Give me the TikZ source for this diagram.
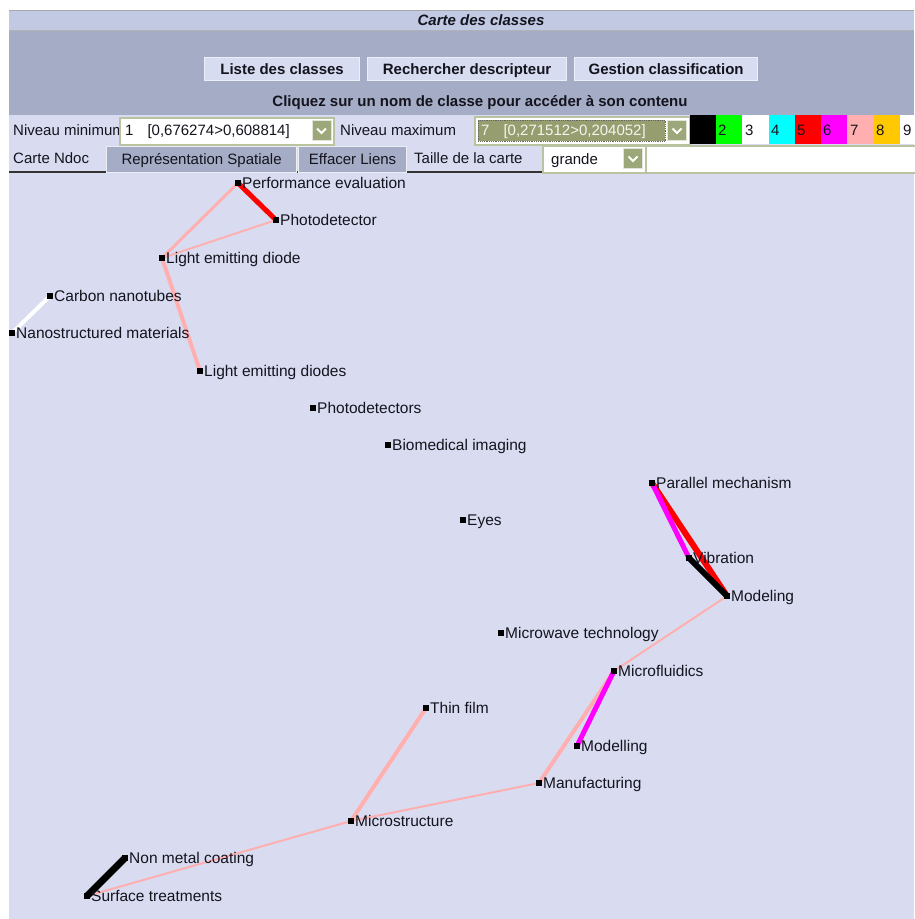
\documentclass[tikz,border=0pt]{standalone}
\usepackage{fontspec}
\setmainfont{Liberation Sans}
\definecolor{mapbg}{RGB}{217,220,240}
\definecolor{titlebg}{RGB}{193,201,227}
\definecolor{bandbg}{RGB}{165,172,198}
\definecolor{btnbg}{RGB}{216,220,240}
\definecolor{btnedge}{RGB}{236,238,248}
\definecolor{olivebtn}{RGB}{157,168,122}
\definecolor{olivesel}{RGB}{150,158,112}
\definecolor{oliveedge}{RGB}{185,195,160}
\definecolor{pinkl}{RGB}{255,175,175}
\definecolor{orangec}{RGB}{255,200,0}
\definecolor{redc}{RGB}{255,0,0}
\definecolor{greenc}{RGB}{0,255,0}
\definecolor{cyanc}{RGB}{0,255,255}
\definecolor{magc}{RGB}{255,0,255}
\definecolor{txt}{RGB}{20,20,30}
\pgfdeclarelayer{bg}
\pgfdeclarelayer{edges}
\pgfsetlayers{bg,edges,main}
\tikzset{
  mk/.style={rectangle,fill=black,minimum size=6pt,inner sep=0pt,draw=none},
  lbl/.style={anchor=base west,inner sep=0pt,font=\fontsize{15.5}{18}\selectfont,text=txt},
  htxt/.style={inner sep=0pt,font=\fontsize{15}{18}\selectfont,text=txt},
  hbold/.style={inner sep=0pt,font=\fontsize{15}{18}\selectfont\bfseries,text=txt},
  btn/.style={fill=btnbg,draw=btnedge,line width=1.2pt},
  combo/.style={fill=white,draw=oliveedge,line width=1.5pt},
  dropbtn/.style={fill=olivebtn,draw=white!70!olivebtn,line width=0.8pt},
  chev/.style={draw=white,line width=2pt},
  pk/.style={draw=pinkl,line width=#1},
  rd/.style={draw=redc,line width=#1},
  mg/.style={draw=magc,line width=#1},
  bk/.style={draw=black,line width=#1},
  wt/.style={draw=white,line width=#1},
}
\begin{document}
\begin{tikzpicture}[x=1pt,y=-1pt]
\useasboundingbox (0,0) rectangle (914,919);
\begin{pgfonlayer}{bg}
\fill[white] (0,0) rectangle (914,919);
\fill[mapbg] (9,172) rectangle (914,919);
\fill[titlebg] (9,10) rectangle (914,31);
\draw[gray!70,line width=1pt] (9,10.5) -- (914,10.5);
\draw[gray!60,line width=1pt] (9,30.5) -- (914,30.5);
\fill[bandbg] (9,31) rectangle (914,115);
\fill[mapbg] (9,115) rectangle (914,172);
\draw[black!80,line width=2pt] (9,172) -- (914,172);
\end{pgfonlayer}
% header
\node[hbold,font=\fontsize{15}{18}\selectfont\bfseries\itshape,anchor=base] (title) at (481,25.5) {Carte des classes};
\node[btn,minimum width=155pt,minimum height=23pt,inner sep=0pt,anchor=north west] (b1) at (204,57) {};
\node[hbold,anchor=base] (b1t) at ([yshift=-5pt]b1.center) {Liste des classes};
\node[btn,minimum width=199pt,minimum height=23pt,inner sep=0pt,anchor=north west] (b2) at (367,57) {};
\node[hbold,anchor=base] (b2t) at ([yshift=-5pt]b2.center) {Rechercher descripteur};
\node[btn,minimum width=183pt,minimum height=23pt,inner sep=0pt,anchor=north west] (b3) at (574,57) {};
\node[hbold,anchor=base] (b3t) at ([yshift=-5pt]b3.center) {Gestion classification};
\node[hbold,anchor=base] (hint) at (480,106.5) {Cliquez sur un nom de classe pour accéder à son contenu};
% row 1
\node[htxt,anchor=base west] (nmin) at (13,135) {Niveau minimum};
\node[combo,minimum width=214pt,minimum height=27pt,inner sep=0pt,anchor=north west] (c1) at (119,117) {};
\node[htxt,anchor=base west] (c1t) at (125,135.5) {1\hspace{14pt}[0,676274>0,608814]};
\node[dropbtn,minimum width=19pt,minimum height=20pt,inner sep=0pt] (d1) at (321.5,130.5) {};
\draw[chev] ([xshift=-4.5pt,yshift=2pt]d1.center) -- ([yshift=-2.5pt]d1.center) -- ([xshift=4.5pt,yshift=2pt]d1.center);
\node[htxt,anchor=base west] (nmax) at (340,135) {Niveau maximum};
\node[combo,minimum width=215pt,minimum height=28pt,inner sep=0pt,anchor=north west] (c2) at (474,116) {};
\node[fill=olivesel,draw=black!60,densely dotted,line width=0.8pt,minimum width=187pt,minimum height=21pt,inner sep=0pt,anchor=north west] (c2s) at (478,120) {};
\node[htxt,text=white!90!olivesel,anchor=base west] (c2t) at (481,135.5) {7\hspace{14pt}[0,271512>0,204052]};
\node[dropbtn,minimum width=19pt,minimum height=20pt,inner sep=0pt] (d2) at (677,130.5) {};
\draw[chev] ([xshift=-4.5pt,yshift=2pt]d2.center) -- ([yshift=-2.5pt]d2.center) -- ([xshift=4.5pt,yshift=2pt]d2.center);
% swatches
\fill[black] (690,115) rectangle (716,144);
\fill[greenc] (716,115) rectangle (742,144);
\fill[white] (742,115) rectangle (769,144);
\fill[cyanc] (769,115) rectangle (795,144);
\fill[redc] (795,115) rectangle (821,144);
\fill[magc] (821,115) rectangle (847,144);
\fill[pinkl] (847,115) rectangle (874,144);
\fill[orangec] (874,115) rectangle (900,144);
\fill[white] (900,115) rectangle (914,144);
\node[htxt,anchor=base west] (s2) at (718,135) {2};
\node[htxt,anchor=base west] (s3) at (745,135) {3};
\node[htxt,anchor=base west] (s4) at (771,135) {4};
\node[htxt,anchor=base west] (s5) at (797,135) {5};
\node[htxt,anchor=base west] (s6) at (823,135) {6};
\node[htxt,anchor=base west] (s7) at (850,135) {7};
\node[htxt,anchor=base west] (s8) at (876,135) {8};
\node[htxt,anchor=base west] (s9) at (903,135) {9};
% row 2
\node[htxt,anchor=base west] (cnd) at (13,163) {Carte Ndoc};
\node[fill=bandbg,draw=white!80!bandbg,line width=1.2pt,minimum width=190pt,minimum height=26pt,inner sep=0pt,anchor=north west] (rs) at (106,146) {};
\node[htxt,anchor=base] (rst) at ([yshift=-5pt]rs.center) {Représentation Spatiale};
\node[fill=bandbg,draw=white!80!bandbg,line width=1.2pt,minimum width=108pt,minimum height=26pt,inner sep=0pt,anchor=north west] (el) at (298,146) {};
\node[htxt,anchor=base] (elt) at ([yshift=-5pt]el.center) {Effacer Liens};
\node[htxt,anchor=base west] (tdc) at (414,163) {Taille de la carte};
\node[combo,minimum width=103pt,minimum height=27pt,inner sep=0pt,anchor=north west] (c3) at (542,145) {};
\node[htxt,anchor=base west] (c3t) at (551,164) {grande};
\node[dropbtn,minimum width=19pt,minimum height=20pt,inner sep=0pt] (d3) at (633,158.5) {};
\draw[chev] ([xshift=-4.5pt,yshift=2pt]d3.center) -- ([yshift=-2.5pt]d3.center) -- ([xshift=4.5pt,yshift=2pt]d3.center);
\node[combo,minimum width=270pt,minimum height=27pt,inner sep=0pt,anchor=north west] (fld) at (645,145) {};
% map nodes
\node[mk] (pe) at (238,183) {};
\node[mk] (pd) at (276,220) {};
\node[mk] (led) at (162,258) {};
\node[mk] (cn) at (50,296) {};
\node[mk] (nm) at (12,333) {};
\node[mk] (leds) at (200,371) {};
\node[mk] (pds) at (313,408) {};
\node[mk] (bi) at (388,445) {};
\node[mk] (pm) at (652,483) {};
\node[mk] (ey) at (463,520) {};
\node[mk] (vib) at (689,558) {};
\node[mk] (mod) at (727,596) {};
\node[mk] (mw) at (501,633) {};
\node[mk] (mf) at (614,671) {};
\node[mk] (tf) at (426,708) {};
\node[mk] (mdl) at (577,746) {};
\node[mk] (man) at (539,783) {};
\node[mk] (ms) at (351,821) {};
\node[mk] (nmc) at (125,858) {};
\node[mk] (st) at (87,896) {};
\foreach \n/\t in {pe/Performance evaluation,pd/Photodetector,led/Light emitting diode,cn/Carbon nanotubes,nm/Nanostructured materials,leds/Light emitting diodes,pds/Photodetectors,bi/Biomedical imaging,pm/Parallel mechanism,ey/Eyes,vib/Vibration,mod/Modeling,mw/Microwave technology,mf/Microfluidics,tf/Thin film,mdl/Modelling,man/Manufacturing,ms/Microstructure,nmc/Non metal coating,st/Surface treatments}{
  \node[lbl] (\n-l) at ([xshift=4pt,yshift=-5.5pt]\n.center) {\t};
}
% connectors
\begin{pgfonlayer}{edges}
\draw[rd=5pt] (pe.center) -- (pd.center);
\draw[pk=3pt] (pe.center) -- (led.center);
\draw[pk=2pt] (pd.center) -- (led.center);
\draw[pk=4pt] (led.center) -- (leds.center);
\draw[wt=4pt] (cn.center) -- (nm.center);
\draw[rd=6pt] (pm.center) -- (mod.center);
\draw[mg=5pt] (pm.center) -- (vib.center);
\draw[bk=6pt] (vib.center) -- (mod.center);
\draw[pk=2pt] (mod.center) -- (mf.center);
\draw[pk=4pt] (mf.center) -- (man.center);
\draw[mg=5pt] (mf.center) -- (mdl.center);
\draw[pk=2pt] (man.center) -- (ms.center);
\draw[pk=4pt] (ms.center) -- (tf.center);
\draw[pk=2pt] (ms.center) -- (st.center);
\draw[bk=7pt] (nmc.center) -- (st.center);
\end{pgfonlayer}
\end{tikzpicture}
\end{document}
